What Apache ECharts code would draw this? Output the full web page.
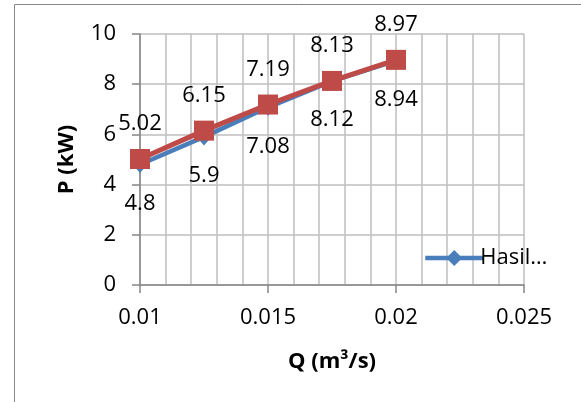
<!DOCTYPE html>
<html>
<head>
<meta charset="utf-8">
<script src="https://cdn.jsdelivr.net/npm/echarts@6/dist/echarts.min.js"></script>
<style>
html,body{margin:0;padding:0;background:#fff;}
#c{width:581px;height:402px;}
</style>
</head>
<body>
<div id="c"></div>
<script>
const qValues = [0.01, 0.0125, 0.015, 0.0175, 0.02];
const pHasil = [4.8, 5.9, 7.08, 8.12, 8.94];
const pSecond = [5.02, 6.15, 7.19, 8.13, 8.97];
const seriesNames = ['Hasil…', 'Series2'];
const xTitle = 'Q (m³/s)';
const yTitle = 'P (kW)';

const FONT = 'Open Sans';
const chart = echarts.init(document.getElementById('c'));
const pairs = (xs, ys) => xs.map((x, i) => [x, ys[i]]);

chart.setOption({
  animation: false,
  backgroundColor: '#fff',
  textStyle: { fontFamily: FONT },
  graphic: [{
    type: 'rect', z: -1,
    shape: { x: 14.5, y: 4.5, width: 700, height: 500 },
    style: { fill: 'none', stroke: '#878787', lineWidth: 1 }
  }],
  grid: { left: 140, right: 57, top: 34, bottom: 117 },
  legend: {
    data: [seriesNames[0]],
    left: 418, top: 242,
    itemWidth: 58, itemHeight: 20,
    lineStyle: { width: 4.5 },
    textStyle: { fontFamily: FONT, fontSize: 22, color: '#000', padding: [0,0,0,-8] }
  },
  xAxis: {
    type: 'value', min: 0.01, max: 0.025, interval: 0.005,
    name: xTitle, nameLocation: 'middle', nameGap: 66,
    nameTextStyle: { fontFamily: FONT, fontSize: 22, fontWeight: 'bold', color: '#000' },
    axisLine: { lineStyle: { color: '#868686', width: 1.5 } },
    axisTick: { show: true, length: 8, inside: false, lineStyle: { color: '#868686', width: 1.5 } },
    axisLabel: { fontFamily: FONT, fontSize: 22, color: '#000', margin: 22,
      formatter: v => String(+v.toFixed(4)) },
    splitLine: { show: true, lineStyle: { color: '#BEBEBE', width: 1.5 } },
    minorTick: { show: false, splitNumber: 5 },
    minorSplitLine: { show: true, lineStyle: { color: '#BEBEBE', width: 1.5 } }
  },
  yAxis: {
    type: 'value', min: 0, max: 10, interval: 2,
    name: yTitle, nameLocation: 'middle', nameGap: 62, nameRotate: 90,
    nameTextStyle: { fontFamily: FONT, fontSize: 22, fontWeight: 'bold', color: '#000' },
    axisLine: { show: true, lineStyle: { color: '#868686', width: 1.5 } },
    axisTick: { show: true, length: 8, lineStyle: { color: '#868686', width: 1.5 } },
    axisLabel: { fontFamily: FONT, fontSize: 22, color: '#000', margin: 24 },
    splitLine: { show: true, lineStyle: { color: '#BEBEBE', width: 1.5 } }
  },
  series: [
    {
      name: seriesNames[0], type: 'line', data: pairs(qValues, pHasil),
      symbol: 'diamond', symbolSize: [15, 17],
      itemStyle: { color: '#4A7EBB' },
      lineStyle: { color: '#4A7EBB', width: 4.5 },
      label: { show: true, position: 'inside', offset: [0, 39],
        fontFamily: FONT, fontSize: 22, color: '#000' }
    },
    {
      name: seriesNames[1], type: 'line', data: pairs(qValues, pSecond),
      symbol: 'rect', symbolSize: 20,
      itemStyle: { color: '#BE4B48' },
      lineStyle: { color: '#BE4B48', width: 5 },
      label: { show: true, position: 'inside', offset: [0, -35],
        fontFamily: FONT, fontSize: 22, color: '#000' }
    }
  ]
});
</script>
</body>
</html>
